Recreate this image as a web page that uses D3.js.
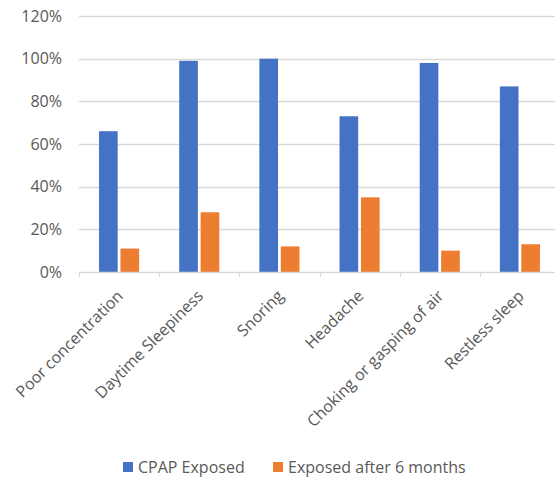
<!DOCTYPE html>
<html>
<head>
<meta charset="utf-8">
<script src="https://cdn.jsdelivr.net/npm/d3@7"></script>
<style>
  body { margin: 0; background: #fff; }
  text { font-family: "Open Sans", sans-serif; fill: #595959; }
</style>
</head>
<body>
<div id="chart"></div>
<script>
// data
var categories = ["Poor concentration", "Daytime Sleepiness", "Snoring", "Headache", "Choking or gasping of air", "Restless sleep"];
var cpapExposed = [66, 99, 100, 73, 98, 87];
var after6Months = [11, 28, 12, 35, 10, 13];
var seriesNames = ["CPAP Exposed", "Exposed after 6 months"];
var seriesColors = ["#4472C4", "#ED7D31"];
var yTicks = [0, 20, 40, 60, 80, 100, 120];

var W = 555, H = 481;
var plot = { left: 79, right: 560, top: 16, bottom: 272 };

var svg = d3.select('#chart')
    .append('svg')
    .attr('width', W)
    .attr('height', H);

var x = d3.scaleBand()
    .domain(categories)
    .range([plot.left, plot.right])
    .paddingInner(0)
    .paddingOuter(0);

var x1 = d3.scaleBand()
    .domain(seriesNames)
    .range([x.bandwidth() * 0.25, x.bandwidth() * 0.75])
    .paddingInner(0.13);

var y = d3.scaleLinear()
    .domain([0, 120])
    .range([plot.bottom, plot.top]);

// gridlines
svg.append('g')
    .selectAll('line')
    .data(yTicks.filter(function (d) { return d > 0; }))
    .enter()
    .append('line')
    .attr('x1', plot.left)
    .attr('x2', W)
    .attr('y1', function (d) { return Math.round(y(d)) + 0.5; })
    .attr('y2', function (d) { return Math.round(y(d)) + 0.5; })
    .attr('stroke', '#D9D9D9')
    .attr('stroke-width', 1.3);

// y axis labels
var yAxis = d3.axisLeft(y)
    .tickValues(yTicks)
    .tickFormat(function (d) { return d + '%'; })
    .tickSize(0)
    .tickPadding(0);

var gy = svg.append('g')
    .attr('transform', 'translate(62,0)')
    .call(yAxis);
gy.select('.domain').remove();
gy.selectAll('text')
    .style('font-size', '16px')
    .style('font-family', '"Open Sans", sans-serif')
    .attr('fill', '#595959');

// bars
var rows = categories.map(function (c, i) {
    return { cat: c, vals: [cpapExposed[i], after6Months[i]] };
});

var groups = svg.selectAll('.grp')
    .data(rows)
    .enter()
    .append('g')
    .attr('class', 'grp')
    .attr('transform', function (d) { return 'translate(' + x(d.cat) + ',0)'; });

groups.selectAll('rect')
    .data(function (d) {
        return d.vals.map(function (v, j) { return { name: seriesNames[j], v: v, j: j }; });
    })
    .enter()
    .append('rect')
    .attr('x', function (d) { return x1(d.name); })
    .attr('width', x1.bandwidth())
    .attr('y', function (d) { return y(d.v); })
    .attr('height', function (d) { return plot.bottom - y(d.v); })
    .attr('fill', function (d) { return seriesColors[d.j]; });

// x axis line + ticks at category boundaries
svg.append('line')
    .attr('x1', plot.left)
    .attr('x2', W)
    .attr('y1', plot.bottom + 0.5)
    .attr('y2', plot.bottom + 0.5)
    .attr('stroke', '#D9D9D9')
    .attr('stroke-width', 1.3);

svg.append('g')
    .selectAll('line')
    .data(categories)
    .enter()
    .append('line')
    .attr('x1', function (d) { return Math.round(x(d)) + 0.5; })
    .attr('x2', function (d) { return Math.round(x(d)) + 0.5; })
    .attr('y1', plot.bottom)
    .attr('y2', plot.bottom + 5)
    .attr('stroke', '#D9D9D9')
    .attr('stroke-width', 1.3);

// rotated category labels
svg.append('g')
    .selectAll('text')
    .data(categories)
    .enter()
    .append('text')
    .attr('transform', function (d) {
        var cx = x(d) + x.bandwidth() / 2 + 1;
        return 'translate(' + cx + ',' + (plot.bottom + 21) + ') rotate(-45)';
    })
    .attr('text-anchor', 'end')
    .attr('dy', '0.35em')
    .style('font-size', '16px')
    .text(function (d) { return d; });

// legend
var legendX = [123, 273];
var legend = svg.append('g')
    .selectAll('g')
    .data(seriesNames)
    .enter()
    .append('g')
    .attr('transform', function (d, i) { return 'translate(' + legendX[i] + ',462)'; });

legend.append('rect')
    .attr('width', 10)
    .attr('height', 10)
    .attr('fill', function (d, i) { return seriesColors[i]; });

legend.append('text')
    .attr('x', 15)
    .attr('y', 5)
    .attr('dy', '0.35em')
    .style('font-size', '16px')
    .text(function (d) { return d; });
</script>
</body>
</html>
